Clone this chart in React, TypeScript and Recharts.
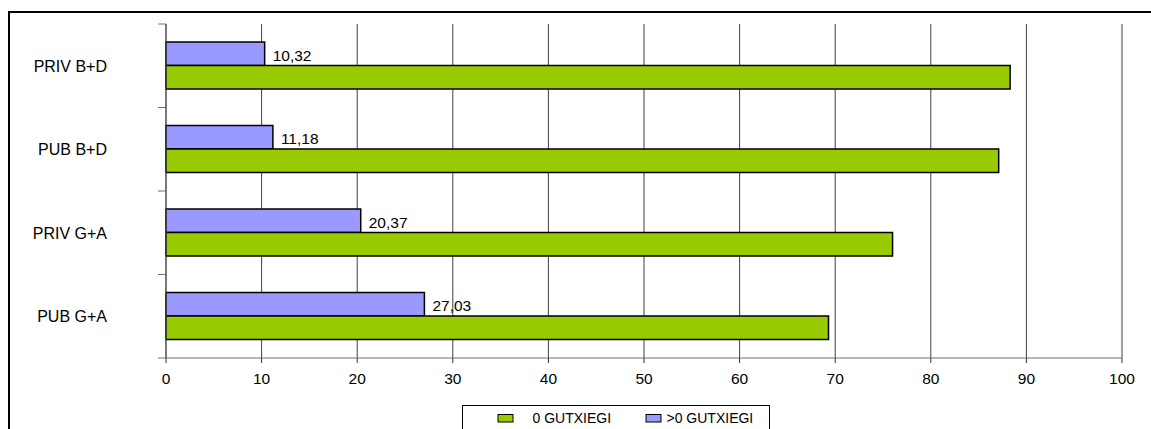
import React from 'react';
import { BarChart, Bar, XAxis, YAxis, CartesianGrid, LabelList } from 'recharts';

const categories = ['PRIV B+D', 'PUB B+D', 'PRIV G+A', 'PUB G+A'];
const overZeroValues = [10.32, 11.18, 20.37, 27.03];
const zeroValues = [88.3, 87.1, 76.0, 69.3];
const xTicks = [0, 10, 20, 30, 40, 50, 60, 70, 80, 90, 100];
const seriesNames = ['0 GUTXIEGI', '>0 GUTXIEGI'];
const seriesColors = ['#99CC00', '#9999FF'];

const data = categories.map((name, i) => ({
  name,
  over: overZeroValues[i],
  zero: zeroValues[i],
}));

const W = 1151;
const H = 429;
const margin = { top: 23, right: 29, bottom: 42, left: 16 };
const xAxisHeight = 30;
const yAxisWidth = 150;
const plotHeight = H - margin.top - margin.bottom - xAxisHeight;
const band = plotHeight / categories.length;
const FONT = '"Liberation Sans", Arial, sans-serif';

const YTick = (props: any) => {
  const { x, y, payload, index } = props;
  const isLast = index === categories.length - 1;
  return (
    <g>
      <line x1={x - 8} x2={x} y1={y - band / 2} y2={y - band / 2} stroke="#707070" strokeWidth={1} />
      {isLast && (
        <line x1={x - 8} x2={x} y1={y + band / 2} y2={y + band / 2} stroke="#707070" strokeWidth={1} />
      )}
      <text x={x - 59} y={y} dy="0.36em" textAnchor="end" fontSize={16} fontFamily={FONT} fill="#000">
        {payload.value}
      </text>
    </g>
  );
};

const fmt = (v: any) => Number(v).toFixed(2).replace('.', ',');

export default function App() {
  return (
    <div style={{ position: 'absolute', left: 0, top: 0, width: W, height: H, overflow: 'hidden', background: '#fff' }}>
      <div
        style={{
          position: 'absolute',
          left: 8,
          top: 11,
          width: 1300,
          height: 600,
          borderLeft: '2px solid #000',
          borderTop: '2px solid #000',
        }}
      />
      <div style={{ position: 'absolute', left: 0, top: 1 }}>
        <BarChart
          width={W}
          height={H}
          data={data}
          layout="vertical"
          margin={margin}
          barGap={0}
          style={{ fontFamily: FONT }}
        >
          <CartesianGrid horizontal={false} vertical={true} stroke="#404040" strokeWidth={1} />
          <XAxis
            type="number"
            domain={[0, 100]}
            ticks={xTicks}
            interval={0}
            height={xAxisHeight}
            axisLine={{ stroke: '#707070', strokeWidth: 1 }}
            tickLine={{ stroke: '#303030', strokeWidth: 1 }}
            tickSize={5}
            tickMargin={10}
            tick={{ fontSize: 15.5, fill: '#000', fontFamily: FONT }}
          />
          <YAxis
            type="category"
            dataKey="name"
            width={yAxisWidth}
            axisLine={{ stroke: '#505050', strokeWidth: 1 }}
            tickLine={false}
            tickSize={0}
            tickMargin={0}
            interval={0}
            tick={<YTick />}
          />
          <Bar dataKey="over" fill={seriesColors[1]} stroke="#000" strokeWidth={1.5} barSize={23.5} isAnimationActive={false}>
            <LabelList dataKey="over" position="right" offset={8} formatter={fmt} fill="#000" fontSize={15.5} fontFamily={FONT} dy={1.5} />
          </Bar>
          <Bar dataKey="zero" fill={seriesColors[0]} stroke="#000" strokeWidth={1.5} barSize={23.5} isAnimationActive={false} />
        </BarChart>
      </div>
      <svg style={{ position: 'absolute', left: 462, top: 405 }} width={320} height={40}>
        <rect x={0.5} y={0.5} width={307} height={60} fill="#fff" stroke="#000" strokeWidth={1} />
        <rect x={36} y={9.5} width={15} height={7.5} fill={seriesColors[0]} stroke="#000" strokeWidth={1} />
        <text x={70.5} y={17.7} fontSize={14} fontFamily={FONT} fill="#000">{seriesNames[0]}</text>
        <rect x={184} y={9.5} width={15} height={7.5} fill={seriesColors[1]} stroke="#000" strokeWidth={1} />
        <text x={204.5} y={17.7} fontSize={14} fontFamily={FONT} fill="#000">{seriesNames[1]}</text>
      </svg>
    </div>
  );
}
